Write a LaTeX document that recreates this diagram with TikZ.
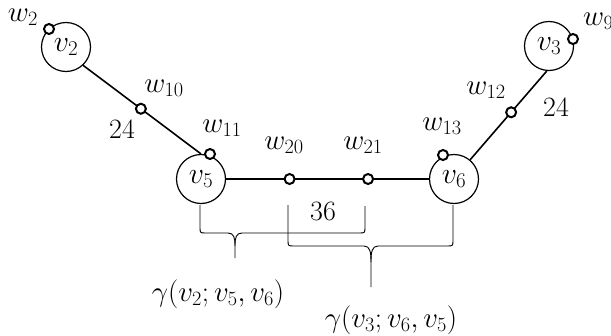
\RequirePackage{fix-cm}
\documentclass[tikz,border=0pt]{standalone}
\begin{document}
\begin{tikzpicture}[x=1pt,y=-1pt,
  big/.style={circle,draw,line width=1.2pt,minimum size=49pt,inner sep=0pt,font=\fontsize{30}{32}\selectfont},
  small/.style={circle,draw,line width=2pt,minimum size=10pt,inner sep=0pt,fill=white},
  edge/.style={line width=1.6pt},
  lab/.style={inner sep=0pt,font=\fontsize{29}{32}\selectfont},
  num/.style={inner sep=0pt,font=\fontsize{28}{30}\selectfont},
  brace/.style={line width=0.9pt}]
\useasboundingbox (0,0) rectangle (611,335);
% vertices
\node[big] (v2) at (66,47) {$v_2$};
\node[big] (v5) at (201,179) {$v_5$};
\node[big] (v6) at (454,179) {$v_6$};
\node[big] (v3) at (549,46) {$v_3$};
% edges
\draw[edge] (v2.-47) -- node[pos=0.49,small] (w10) {} (v5.north);
\draw[edge] (v3.-95) -- node[pos=0.465,small] (w12) {} (v6.50);
\draw[edge] (v5.east) -- node[pos=0.313,small] (w20) {} node[pos=0.70,small] (w21) {} (v6.west);
% boundary points
\node[small] (w2) at (49,29) {};
\node[small] (w11) at (210,154) {};
\node[small] (w13) at (443,155) {};
\node[small] (w9) at (573,39) {};
% labels
\node[lab] (lw2) at (23,17) {$w_2$};
\node[lab] (lw10) at (164,88) {$w_{10}$};
\node[lab] (lw11) at (222,128) {$w_{11}$};
\node[lab] (lw20) at (284,145) {$w_{20}$};
\node[lab] (lw21) at (363,145) {$w_{21}$};
\node[lab] (lw13) at (442,126) {$w_{13}$};
\node[lab] (lw12) at (486,90) {$w_{12}$};
\node[lab,anchor=west] (lw9) at (583,21) {$w_9$};
\node[num] (n24a) at (122,129) {24};
\node[num] (n24b) at (556,107) {24};
\node[num] (n36) at (323,211) {36};
\node[lab] (g1) at (218,294) {$\gamma(v_2;v_5,v_6)$};
\node[lab] (g2) at (391,320) {$\gamma(v_3;v_6,v_5)$};
% braces
\draw[brace] (200,205) -- (200,227) .. controls (200,233) .. (206,233) -- (228,233)
  .. controls (234,233) and (235,238) .. (235,246) -- (235,258);
\draw[brace] (235,246) .. controls (235,238) and (236,233) .. (242,233) -- (359,233)
  .. controls (365,233) .. (365,227) -- (365,206);
\draw[brace] (288,205) -- (288,240) .. controls (288,246) .. (294,246) -- (364,246)
  .. controls (370,246) and (371,252) .. (371,262) -- (371,287);
\draw[brace] (371,262) .. controls (371,252) and (372,246) .. (378,246) -- (447,246)
  .. controls (453,246) .. (453,240) -- (453,205);
\end{tikzpicture}
\end{document}
